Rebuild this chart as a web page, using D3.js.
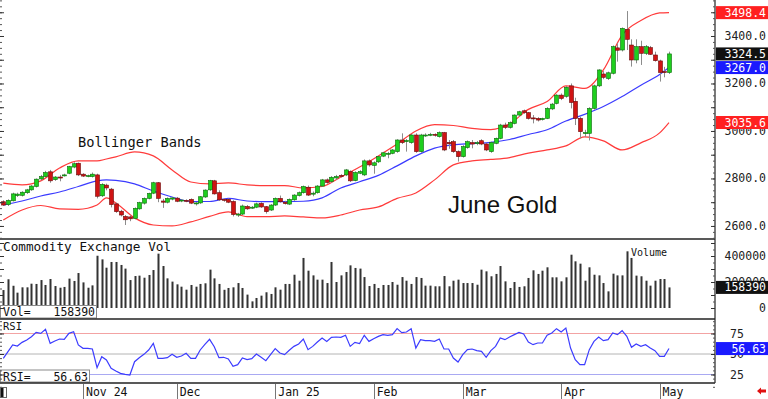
<!DOCTYPE html>
<html>
<head>
<meta charset="utf-8">
<script src="https://cdn.jsdelivr.net/npm/d3@7"></script>
<style>
  body { margin: 0; background: #fff; }
  svg { display: block; }
  text { font-family: "DejaVu Sans Mono", monospace; }
</style>
</head>
<body>
<svg width="768" height="399"></svg>
<script>
// daily bars, Oct 9 2024 .. May 2 2025 (143 sessions)
const opens = [2702,2690,2706,2728,2729,2740,2752,2766,2798,2808,2828,2795,2806,2812,2822,2848,2864,2818,2810,2808,
  2815,2727,2772,2755,2693,2662,2640,2638,2632,2672,2696,2716,2738,2782,2705,2700,2713,2717,2705,2708,
  2712,2693,2697,2722,2752,2790,2740,2712,2712,2703,2648,2650,2682,2676,2679,2695,2681,2667,2688,2716,
  2700,2692,2710,2728,2740,2763,2736,2740,2768,2794,2787,2802,2813,2815,2829,2791,2822,2815,2874,2855,
  2870,2894,2905,2906,2913,2962,2955,2951,2983,2913,2980,2984,2986,2976,2993,2952,2955,2913,2892,2930,
  2951,2948,2959,2945,2913,2948,2969,3025,3015,3032,3067,3085,3077,3055,3053,3048,3053,3093,3116,3151,
  3146,3190,3125,3053,2990,2990,3095,3190,3240,3221,3243,3350,3341,3428,3362,3299,3355,3327,3351,3320,
  3295,3250,3246];
const highs = [2708,2712,2740,2740,2746,2756,2772,2800,2815,2832,2836,2810,2815,2820,2853,2868,2867,2822,2816,2825,
  2820,2780,2778,2760,2698,2668,2646,2645,2678,2702,2720,2740,2786,2785,2714,2720,2722,2722,2713,2712,
  2716,2700,2726,2754,2794,2794,2750,2716,2716,2708,2655,2690,2688,2684,2698,2700,2684,2692,2720,2728,
  2706,2716,2734,2745,2770,2770,2745,2772,2798,2800,2810,2815,2818,2840,2834,2830,2835,2880,2880,2872,
  2895,2912,2912,2924,2965,2990,2966,2988,2990,2988,2990,2992,2990,2998,2996,2962,2962,2918,2940,2960,
  2962,2958,2965,2950,2955,2972,3030,3035,3040,3070,3085,3090,3080,3067,3058,3056,3100,3118,3155,3158,
  3190,3200,3140,3060,3005,3100,3195,3260,3252,3250,3360,3370,3436,3505,3386,3386,3380,3362,3358,3334,
  3300,3270,3334];
const lows = [2684,2684,2703,2722,2724,2735,2748,2762,2792,2804,2782,2790,2788,2808,2818,2843,2810,2806,2805,2804,
  2716,2722,2750,2678,2655,2640,2604,2620,2628,2668,2690,2712,2734,2700,2676,2695,2708,2700,2700,2700,
  2692,2686,2693,2718,2748,2732,2705,2702,2696,2640,2638,2646,2668,2672,2675,2676,2652,2663,2684,2698,
  2690,2688,2706,2724,2736,2726,2725,2736,2764,2778,2782,2795,2804,2810,2785,2788,2818,2810,2850,2820,
  2865,2890,2885,2902,2908,2945,2913,2946,2908,2908,2975,2978,2976,2972,2915,2925,2908,2871,2888,2925,
  2927,2940,2940,2915,2908,2944,2965,3008,3010,3028,3060,3072,3048,3032,3040,3044,3050,3088,3112,3130,
  3140,3095,3025,2969,2975,2960,3090,3185,3218,3215,3238,3292,3335,3341,3271,3285,3278,3320,3320,3292,
  3208,3226,3240];
const closes = [2688,2708,2735,2734,2742,2752,2768,2797,2808,2825,2790,2806,2805,2815,2850,2862,2815,2810,2812,2818,
  2725,2775,2760,2690,2660,2646,2626,2630,2674,2698,2716,2737,2782,2716,2700,2716,2718,2704,2709,2705,
  2696,2697,2723,2751,2791,2735,2710,2710,2700,2648,2650,2684,2672,2679,2693,2680,2660,2688,2716,2702,
  2694,2712,2730,2740,2766,2730,2738,2768,2794,2783,2805,2808,2808,2836,2790,2825,2829,2874,2857,2866,
  2892,2908,2906,2920,2962,2951,2960,2983,2913,2983,2983,2986,2982,2993,2920,2946,2913,2892,2934,2955,
  2945,2951,2945,2920,2951,2969,3025,3015,3035,3067,3081,3077,3053,3053,3046,3053,3095,3113,3151,3137,
  3184,3120,3053,2997,2993,3095,3190,3257,3226,3245,3355,3340,3432,3386,3299,3355,3327,3355,3323,3296,
  3246,3246,3324.5];
const volumes = [138000,221000,171000,118000,159000,159000,187000,185000,215000,177000,223000,169000,156000,162000,226000,208000,269000,197000,156000,174000,
  402000,374000,310000,354000,354000,331000,303000,215000,246000,249000,233000,254000,292000,418000,323000,228000,203000,182000,164000,141000,
  177000,164000,185000,190000,295000,228000,185000,140000,154000,159000,192000,154000,103000,51000,77000,95000,121000,108000,159000,141000,
  185000,185000,256000,210000,385000,287000,251000,218000,218000,192000,354000,200000,251000,277000,328000,308000,303000,238000,169000,185000,
  154000,177000,177000,200000,179000,238000,210000,185000,238000,231000,172000,172000,167000,167000,246000,167000,210000,218000,192000,192000,
  192000,179000,295000,282000,244000,262000,323000,205000,154000,200000,162000,167000,231000,290000,262000,287000,313000,236000,236000,205000,
  236000,410000,359000,341000,210000,313000,256000,251000,192000,128000,264000,251000,251000,436000,385000,249000,244000,210000,172000,210000,
  223000,223000,158390];
const rsi = [44.7,52.8,61.0,59.7,64.2,67.1,71.1,76.4,75.2,80.1,63.0,65.8,68.3,67.9,75.2,77.2,61.0,56.9,56.9,56.1,
  33.3,46.7,42.7,32.5,29.2,26.4,25.2,24.4,40.6,45.5,49.6,54.9,63.0,44.7,44.7,45.5,49.6,45.9,47.5,50.8,
  44.7,44.7,54.9,61.8,67.9,58.9,45.5,46.0,44.0,35.0,37.0,45.1,43.1,44.3,50.0,46.0,41.9,49.2,56.5,51.2,
  49.2,54.5,59.3,62.2,68.3,55.3,59.3,64.6,69.5,65.4,70.3,70.7,70.3,72.8,59.3,64.2,62.6,72.8,65.4,68.7,
  71.5,73.6,72.8,73.6,80.9,76.0,76.8,80.9,57.3,67.5,66.3,66.3,65.4,68.3,56.1,56.1,45.1,40.2,49.2,55.3,
  56.1,54.1,53.3,46.0,54.1,59.3,69.5,67.5,70.7,73.6,76.4,74.4,64.6,61.4,63.4,63.4,72.8,75.6,80.9,76.8,
  81.7,57.3,43.1,37.0,37.0,55.3,65.4,70.7,66.3,67.5,75.6,73.6,78.4,71.5,58.1,62.2,59.3,61.4,57.3,54.1,
  47.2,47.2,56.63];

// bollinger bands read at these bar numbers
const bbIdx = [0,4,8,12,16,20,22,24,28,32,36,40,44,48,52,56,60,64,68,72,76,80,84,88,92,96,100,104,108,112,116,120,124,128,132,136,140,142];
const bbUpper = [2780,2773,2790,2844,2874,2874,2882,2891,2912,2895,2836,2785,2777,2781,2773,2770,2770,2760,2766,2806,
  2848,2895,2945,3000,3027,3023,3011,3006,3030,3091,3124,3190,3179,3257,3404,3465,3497,3498.4];
const bbMid = [2688,2705,2726,2743,2766,2790,2794,2792,2777,2747,2722,2703,2703,2716,2705,2702,2702,2704,2718,2760,
  2786,2813,2853,2895,2928,2942,2947,2952,2964,2985,3005,3042,3070,3103,3145,3193,3238,3267];
const bbLower = [2625,2667,2686,2672,2670,2688,2718,2697,2634,2604,2600,2617,2640,2659,2639,2639,2642,2638,2634,2646,
  2667,2680,2716,2739,2794,2857,2874,2880,2888,2907,2920,2937,2975,2958,2920,2950,2992,3035.6];

const monthIdx = [17,37,58,79,98,119,140];
const monthLabels = ["Nov 24","Dec","Jan 25","Feb","Mar","Apr","May"];
const priceTicks = [2600,2800,3000,3200,3400];
const volTicks = [0,200000,400000];
const rsiTicks = [25,50,75];

const svg = d3.select('svg');
const right = 715;

let x = d3.scaleLinear().domain([0, 142]).range([3.3, 669]);
let yP = d3.scaleLinear().domain([2545, 3551.6]).range([239, 0]);
let yV = d3.scaleLinear().domain([0, 400000]).range([308, 256]);
let yR = d3.scaleLinear().domain([25, 75]).range([374.5, 333.5]);

// ---- price panel
let bandLine = d3.line().x(d => x(d[0])).y(d => yP(d[1])).curve(d3.curveMonotoneX);
svg.append('path').datum(bbIdx.map((d, i) => [d, bbUpper[i]]))
  .attr('d', bandLine).attr('fill', 'none').attr('stroke', '#ff3b3b').attr('stroke-width', 1.2);
svg.append('path').datum(bbIdx.map((d, i) => [d, bbLower[i]]))
  .attr('d', bandLine).attr('fill', 'none').attr('stroke', '#ff3b3b').attr('stroke-width', 1.2);
svg.append('path').datum(bbIdx.map((d, i) => [d, bbMid[i]]))
  .attr('d', bandLine).attr('fill', 'none').attr('stroke', '#3b3bff').attr('stroke-width', 1.2);

let candles = svg.append('g').selectAll('g').data(closes).enter().append('g');
candles.append('line')
  .attr('x1', (d, i) => Math.round(x(i)) + 0.5).attr('x2', (d, i) => Math.round(x(i)) + 0.5)
  .attr('y1', (d, i) => yP(highs[i])).attr('y2', (d, i) => yP(lows[i]))
  .attr('stroke', '#8c8c8c').attr('stroke-width', 1);
candles.append('rect')
  .attr('x', (d, i) => Math.round(x(i)) - 1.5)
  .attr('y', (d, i) => yP(Math.max(opens[i], d)))
  .attr('width', 4)
  .attr('height', (d, i) => Math.max(1, Math.abs(yP(opens[i]) - yP(d))))
  .attr('fill', (d, i) => d >= opens[i] ? '#1ecf1e' : '#cf1414')
  .attr('stroke', (d, i) => d >= opens[i] ? '#0b6b0b' : '#6b0b0b')
  .attr('stroke-width', 0.6);

svg.append('text').attr('x', 78).attr('y', 146.5).attr('font-size', '13.7px').attr('fill', '#111').text('Bollinger Bands');
svg.append('text').attr('x', 448).attr('y', 213).attr('font-size', '24px')
  .style('font-family', '"Liberation Sans", Arial, sans-serif').attr('fill', '#111').text('June Gold');

// ---- volume panel
svg.append('g').selectAll('rect').data(volumes).enter().append('rect')
  .attr('x', (d, i) => Math.round(x(i)) - 0.5)
  .attr('y', d => yV(d))
  .attr('width', 2)
  .attr('height', d => yV(0) - yV(d))
  .attr('fill', '#333');
svg.append('text').attr('x', 3).attr('y', 251).attr('font-size', '12.7px').attr('fill', '#111').text('Commodity Exchange Vol');
svg.append('text').attr('x', 631).attr('y', 256).attr('font-size', '10px').attr('fill', '#111').text('Volume');

// ---- rsi panel
const rsiLineColors = { 75: '#f3a3a3', 50: '#b4b4b4', 25: '#a9a9f2' };
svg.append('g').selectAll('line').data(rsiTicks).enter().append('line')
  .attr('x1', 0).attr('x2', right).attr('y1', d => yR(d)).attr('y2', d => yR(d))
  .attr('stroke', d => rsiLineColors[d]).attr('stroke-width', 1);
svg.append('path').datum(rsi)
  .attr('d', d3.line().x((d, i) => x(i)).y(d => yR(d)))
  .attr('fill', 'none').attr('stroke', '#3c3cff').attr('stroke-width', 1.2);
svg.append('text').attr('x', 3).attr('y', 330).attr('font-size', '10.5px').attr('fill', '#111').text('RSI');

// value boxes on the left
let lastVol = volumes[volumes.length - 1], lastRsi = rsi[rsi.length - 1];
svg.append('rect').attr('x', 0.5).attr('y', 305.5).attr('width', 96).attr('height', 12.5).attr('fill', '#fff').attr('stroke', '#8a8a8a');
svg.append('text').attr('x', 3).attr('y', 315.5).attr('font-size', '11.5px').attr('fill', '#111').text('Vol=');
svg.append('text').attr('x', 95).attr('y', 315.5).attr('font-size', '11.5px').attr('text-anchor', 'end').attr('fill', '#111').text(lastVol);
svg.append('rect').attr('x', 0.5).attr('y', 370).attr('width', 89).attr('height', 12).attr('fill', '#fff').attr('stroke', '#8a8a8a');
svg.append('text').attr('x', 3).attr('y', 380.5).attr('font-size', '11.5px').attr('fill', '#111').text('RSI=');
svg.append('text').attr('x', 88).attr('y', 380.5).attr('font-size', '11.5px').attr('text-anchor', 'end').attr('fill', '#111').text(lastRsi.toFixed(2));

// ---- frames
const frame = svg.append('g').attr('stroke', '#222');
frame.append('line').attr('x1', 0).attr('x2', right).attr('y1', 239).attr('y2', 239).attr('stroke-width', 1.5);
frame.append('line').attr('x1', 0).attr('x2', right).attr('y1', 319).attr('y2', 319).attr('stroke-width', 1.5);
frame.append('line').attr('x1', 0).attr('x2', right).attr('y1', 383).attr('y2', 383).attr('stroke-width', 1.5);
frame.append('line').attr('x1', right).attr('x2', right).attr('y1', 0).attr('y2', 383).attr('stroke-width', 1.2);

// tick marks, right side (inward) and left edge
function ticks(scale, minor, major, x0, dir) {
  svg.append('g').attr('transform', `translate(${x0},0)`)
    .call((dir < 0 ? d3.axisLeft(scale) : d3.axisRight(scale)).tickValues(minor).tickSize(2).tickFormat(''))
    .call(g => g.select('.domain').remove()).selectAll('line').attr('stroke', '#555');
  svg.append('g').attr('transform', `translate(${x0},0)`)
    .call((dir < 0 ? d3.axisLeft(scale) : d3.axisRight(scale)).tickValues(major).tickSize(4).tickFormat(''))
    .call(g => g.select('.domain').remove()).selectAll('line').attr('stroke', '#333');
}
ticks(yP, d3.range(2550, 3551, 25), d3.range(2600, 3551, 100), right, -1);
ticks(yP, d3.range(2550, 3551, 25), d3.range(2600, 3551, 100), 0, 1);
ticks(yV, d3.range(0, 520001, 50000), d3.range(0, 520001, 100000), right, -1);
ticks(yV, d3.range(0, 520001, 50000), d3.range(0, 520001, 100000), 0, 1);
ticks(yR, d3.range(10, 91, 5), rsiTicks, right, -1);
ticks(yR, d3.range(10, 91, 5), rsiTicks, 0, 1);

// right labels (some sit under the value boxes, as in the source chart)
svg.append('g').selectAll('text').data(priceTicks).enter().append('text')
  .attr('x', 766).attr('y', d => yP(d) + 4).attr('text-anchor', 'end')
  .attr('font-size', '11.5px').attr('fill', '#222').text(d => d3.format('.1f')(d));
svg.append('g').selectAll('text').data(volTicks).enter().append('text')
  .attr('x', 766).attr('y', d => yV(d) + 4).attr('text-anchor', 'end')
  .attr('font-size', '11.5px').attr('fill', '#222').text(d => d);
svg.append('g').selectAll('text').data(rsiTicks).enter().append('text')
  .attr('x', 730).attr('y', d => yR(d) + 4)
  .attr('font-size', '11.5px').attr('fill', '#222').text(d => d);

function valueBox(yv, label, fill) {
  svg.append('rect').attr('x', 716).attr('y', yv - 6.5).attr('width', 52).attr('height', 13).attr('fill', fill);
  svg.append('text').attr('x', 766).attr('y', yv + 4).attr('text-anchor', 'end')
    .attr('font-size', '11.5px').attr('fill', '#fff').text(label);
}
const lastIdx = bbIdx.length - 1;
valueBox(yP(bbUpper[lastIdx]), bbUpper[lastIdx].toFixed(1), '#ff2020');
valueBox(yP(closes[closes.length - 1]), closes[closes.length - 1].toFixed(1), '#111');
valueBox(yP(bbMid[lastIdx]), bbMid[lastIdx].toFixed(1), '#1a1aff');
valueBox(yP(bbLower[lastIdx]), bbLower[lastIdx].toFixed(1), '#ff2020');
valueBox(yV(lastVol), String(lastVol), '#111');
valueBox(yR(lastRsi), lastRsi.toFixed(2), '#1a1aff');

// ---- month axis
let months = svg.append('g').selectAll('g').data(monthIdx).enter().append('g');
months.append('line').attr('x1', d => Math.round(x(d)) + 0.5).attr('x2', d => Math.round(x(d)) + 0.5)
  .attr('y1', 384).attr('y2', 399).attr('stroke', '#777');
months.append('text').attr('x', d => x(d) + 3).attr('y', 396).attr('font-size', '11.5px').attr('fill', '#111')
  .text((d, i) => monthLabels[i]);

// scroll widget and arrow
svg.append('rect').attr('x', 0.5).attr('y', 387.5).attr('width', 6).attr('height', 10).attr('fill', '#fff').attr('stroke', '#666');
svg.append('rect').attr('x', 1).attr('y', 388).attr('width', 2.5).attr('height', 9).attr('fill', '#111');
svg.append('path').attr('d', 'M757,391 L761,387.5 L761,389.5 L766,389.5 L766,392.5 L761,392.5 L761,394.5 Z').attr('fill', '#e01010');
</script>
</body>
</html>
